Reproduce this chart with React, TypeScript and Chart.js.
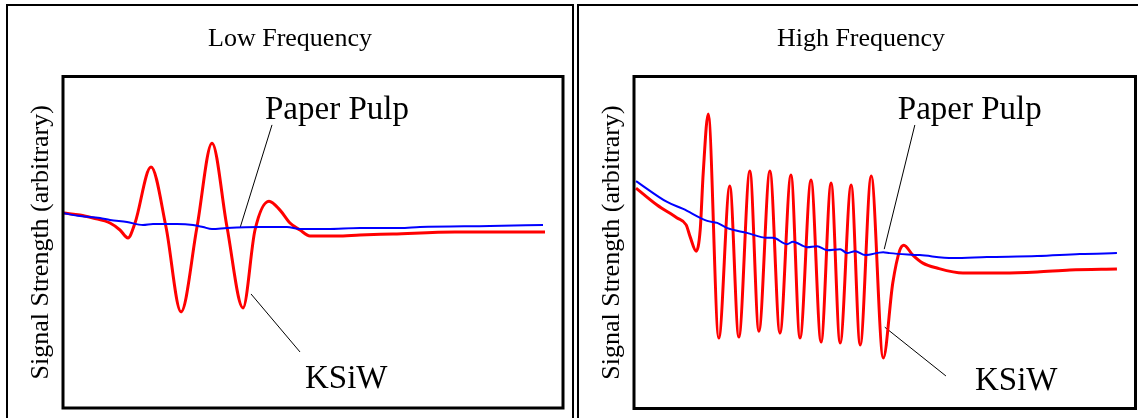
import React, { useEffect, useRef } from "react";
import { Chart, registerables } from "chart.js";

Chart.register(...registerables);

const FONT = '"Liberation Serif", "Times New Roman", serif';

const panelTitles = ["Low Frequency", "High Frequency"];
const yAxisTitle = "Signal Strength (arbitrary)";
const seriesNames = ["KSiW", "Paper Pulp"];
const labelTexts = ["Paper Pulp", "KSiW"];

// ---- Low frequency panel ----
const lowKsiwX = [0.2, 3.4, 6.0, 9.4, 11.4, 13.0, 14.4, 17.6, 20.6, 23.6, 26.8, 29.8, 32.8, 36.0, 38.4, 41.2, 43.4, 45.4, 47.4, 49.4, 54.8, 59.4, 66.0, 78.4, 88.8, 96.4];
const lowKsiwY = [58.8, 58.2, 57.3, 55.8, 53.7, 51.3, 55.8, 72.7, 54.6, 29.0, 54.6, 79.9, 54.6, 30.2, 53.7, 62.4, 59.7, 55.8, 53.7, 51.9, 51.9, 52.2, 52.5, 53.1, 53.1, 53.1];
const lowPulpX = [0, 3.4, 7.4, 9.4, 12.8, 16.0, 18.0, 22.8, 26.0, 28.0, 29.8, 32.8, 39.4, 44.8, 47.4, 52.8, 59.4, 67.4, 71.4, 85.4, 96.0];
const lowPulpY = [58.8, 57.9, 57.3, 56.7, 56.1, 55.2, 55.5, 55.5, 55.2, 54.6, 54.0, 54.3, 54.6, 54.6, 54.0, 54.0, 54.3, 54.3, 54.6, 54.9, 55.2];
const lowLabelX = [40.4, 48.4];
const lowLabelY = [87.2, 6.0];
const lowLeaderPulpX = [41.8, 35.4];
const lowLeaderPulpY = [85.4, 54.3];
const lowLeaderKsiwX = [37.6, 47.4];
const lowLeaderKsiwY = [34.4, 16.9];

// ---- High frequency panel ----
const highKsiwX = [0.4, 4.6, 8.6, 10.4, 11.2, 12.4, 13.2, 13.8, 14.8, 16.9, 19.1, 20.9, 23.1, 24.9, 27.1, 29.1, 31.3, 33.1, 35.3, 37.3, 39.3, 41.1, 43.3, 45.1, 47.3, 49.7, 51.6, 53.0, 53.8, 55.6, 57.6, 60.4, 65.6, 73.6, 80.4, 86.9, 96.3];
const highKsiwY = [66.4, 61.3, 57.4, 55.3, 51.7, 47.4, 53.8, 70.9, 88.7, 21.2, 67.0, 21.5, 71.5, 23.3, 71.5, 22.7, 70.3, 21.2, 68.8, 20.0, 67.9, 19.7, 67.3, 19.1, 70.0, 15.2, 37.8, 47.7, 49.2, 46.2, 43.8, 42.3, 40.8, 40.8, 41.1, 41.7, 42.0];
const highPulpX = [0.4, 6.6, 9.8, 14.6, 16.6, 18.5, 22.5, 26.5, 27.7, 30.5, 31.7, 34.5, 36.5, 38.5, 41.1, 42.5, 44.1, 46.1, 49.7, 51.0, 57.0, 63.6, 70.4, 80.4, 88.9, 96.3];
const highPulpY = [68.5, 62.2, 60.1, 56.5, 55.9, 54.4, 52.9, 51.4, 51.4, 49.5, 50.2, 48.6, 48.9, 47.7, 48.0, 46.8, 47.4, 46.2, 47.1, 46.8, 46.2, 45.3, 45.6, 45.9, 46.5, 46.8];
const highLabelX = [52.6, 68.0];
const highLabelY = [87.2, 5.6];
const highLeaderPulpX = [56.0, 49.9];
const highLeaderPulpY = [85.4, 48.0];
const highLeaderKsiwX = [50.0, 62.2];
const highLeaderKsiwY = [24.5, 9.8];

const zip = (xs: number[], ys: number[]) => xs.map((x, i) => ({ x, y: ys[i] }));

const framePlugin = {
  id: "frame",
  afterDatasetsDraw(chart: any) {
    const { ctx, chartArea } = chart;
    ctx.save();
    ctx.strokeStyle = "#000";
    ctx.lineWidth = 3;
    ctx.strokeRect(chartArea.left, chartArea.top, chartArea.right - chartArea.left, chartArea.bottom - chartArea.top);
    ctx.restore();
  },
};

const annotPlugin = {
  id: "annot",
  afterDraw(chart: any, _args: any, opts: any) {
    if (!opts || !opts.texts) return;
    const { ctx, scales } = chart;
    ctx.save();
    ctx.fillStyle = "#000";
    ctx.font = `33px ${FONT}`;
    ctx.textAlign = "left";
    ctx.textBaseline = "alphabetic";
    opts.texts.forEach((t: string, i: number) => {
      ctx.fillText(t, scales.x.getPixelForValue(opts.xs[i]), scales.y.getPixelForValue(opts.ys[i]));
    });
    ctx.restore();
  },
};

type PanelProps = {
  title: string;
  ksiwX: number[];
  ksiwY: number[];
  pulpX: number[];
  pulpY: number[];
  labelX: number[];
  labelY: number[];
  lpX: number[];
  lpY: number[];
  lkX: number[];
  lkY: number[];
  gapRight: number;
  padBottom: number;
};

function Panel(p: PanelProps) {
  const ref = useRef<HTMLCanvasElement | null>(null);
  useEffect(() => {
    if (!ref.current) return;
    const leader = (xs: number[], ys: number[]) => ({
      label: "",
      data: zip(xs, ys),
      borderColor: "#000",
      borderWidth: 1,
      pointRadius: 0,
      tension: 0,
    });
    const chart = new Chart(ref.current, {
      type: "line",
      data: {
        datasets: [
          {
            label: seriesNames[1],
            data: zip(p.pulpX, p.pulpY),
            borderColor: "#0000ff",
            borderWidth: 2,
            pointRadius: 0,
            cubicInterpolationMode: "monotone",
          },
          {
            label: seriesNames[0],
            data: zip(p.ksiwX, p.ksiwY),
            borderColor: "#ff0000",
            borderWidth: 3,
            pointRadius: 0,
            cubicInterpolationMode: "monotone",
          },
          leader(p.lpX, p.lpY),
          leader(p.lkX, p.lkY),
        ],
      },
      options: {
        animation: false,
        responsive: false,
        devicePixelRatio: 1,
        layout: { padding: { left: 0, top: 0, right: 0, bottom: p.padBottom } },
        plugins: {
          legend: { display: false },
          tooltip: { enabled: false },
          title: {
            display: true,
            text: p.title,
            color: "#000",
            font: { family: FONT, size: 26, weight: "normal" },
            padding: { top: 17.6, bottom: 21.7 },
          },
          annot: { texts: labelTexts, xs: p.labelX, ys: p.labelY },
        } as any,
        scales: {
          x: { type: "linear", min: 0, max: 100, display: false },
          y: {
            type: "linear",
            min: 0,
            max: 100,
            display: true,
            ticks: { display: false },
            grid: { display: false, drawTicks: false },
            border: { display: false },
            title: {
              display: true,
              text: yAxisTitle,
              color: "#000",
              font: { family: FONT, size: 26, weight: "normal" },
              padding: { top: 17.3, bottom: 6.5 },
            },
          },
          yr: {
            type: "linear",
            position: "right",
            min: 0,
            max: 100,
            display: true,
            ticks: { display: false },
            grid: { display: false, drawTicks: false },
            border: { display: false },
            title: {
              display: true,
              text: "",
              font: { family: FONT, size: 1, lineHeight: 1 },
              padding: { top: 0, bottom: p.gapRight - 1 },
            },
          },
        },
      },
      plugins: [framePlugin, annotPlugin],
    } as any);
    return () => chart.destroy();
  }, []);
  return <canvas ref={ref} width={564} height={424} style={{ display: "block" }} />;
}

export default function App() {
  return (
    <div style={{ position: "fixed", left: 0, top: 0, width: 1138, height: 418, overflow: "hidden", background: "#fff" }}>
      <div style={{ position: "absolute", left: 6, top: 4, width: 564, height: 430, border: "2px solid #000" }}>
        <Panel
          title={panelTitles[0]}
          ksiwX={lowKsiwX}
          ksiwY={lowKsiwY}
          pulpX={lowPulpX}
          pulpY={lowPulpY}
          labelX={lowLabelX}
          labelY={lowLabelY}
          lpX={lowLeaderPulpX}
          lpY={lowLeaderPulpY}
          lkX={lowLeaderKsiwX}
          lkY={lowLeaderKsiwY}
          gapRight={9}
          padBottom={22}
        />
      </div>
      <div style={{ position: "absolute", left: 577, top: 4, width: 564, height: 430, border: "2px solid #000" }}>
        <Panel
          title={panelTitles[1]}
          ksiwX={highKsiwX}
          ksiwY={highKsiwY}
          pulpX={highPulpX}
          pulpY={highPulpY}
          labelX={highLabelX}
          labelY={highLabelY}
          lpX={highLeaderPulpX}
          lpY={highLeaderPulpY}
          lkX={highLeaderKsiwX}
          lkY={highLeaderKsiwY}
          gapRight={7.5}
          padBottom={21.5}
        />
      </div>
    </div>
  );
}
